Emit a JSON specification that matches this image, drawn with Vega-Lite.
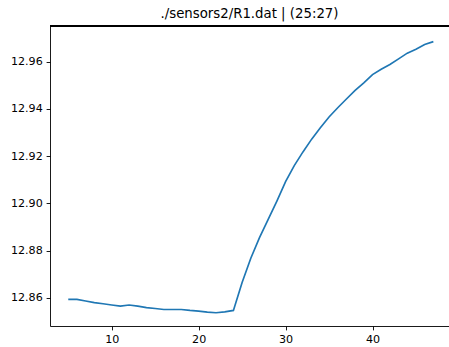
{
  "$schema": "https://vega.github.io/schema/vega-lite/v6.json",
  "autosize": "none",
  "width": 399,
  "height": 300,
  "padding": {"left": 50, "top": 26, "right": 0, "bottom": 21},
  "background": "white",
  "title": {
    "text": "./sensors2/R1.dat | (25:27)",
    "font": "DejaVu Sans",
    "fontSize": 13.3,
    "fontWeight": "normal",
    "color": "black",
    "anchor": "middle",
    "offset": 5
  },
  "config": {
    "view": {"stroke": null},
    "axis": {
      "grid": false,
      "labelFont": "DejaVu Sans",
      "labelFontSize": 11.1,
      "labelColor": "black",
      "domainColor": "black",
      "domainWidth": 0.9,
      "tickColor": "black",
      "tickWidth": 0.9,
      "tickSize": 3.9,
      "labelPadding": 3.9,
      "title": null
    }
  },
  "data": {
    "values": [
      {"x": 5, "y": 12.8594}, {"x": 6, "y": 12.8594}, {"x": 7, "y": 12.8587},
      {"x": 8, "y": 12.8580}, {"x": 9, "y": 12.8575}, {"x": 10, "y": 12.8570},
      {"x": 11, "y": 12.8565}, {"x": 12, "y": 12.8570}, {"x": 13, "y": 12.8565},
      {"x": 14, "y": 12.8559}, {"x": 15, "y": 12.8555}, {"x": 16, "y": 12.8551},
      {"x": 17, "y": 12.8551}, {"x": 18, "y": 12.8551}, {"x": 19, "y": 12.8547},
      {"x": 20, "y": 12.8544}, {"x": 21, "y": 12.8540}, {"x": 22, "y": 12.8537},
      {"x": 23, "y": 12.8541}, {"x": 24, "y": 12.8547}, {"x": 25, "y": 12.8665},
      {"x": 26, "y": 12.8768}, {"x": 27, "y": 12.8855}, {"x": 28, "y": 12.8932},
      {"x": 29, "y": 12.9010}, {"x": 30, "y": 12.9092}, {"x": 31, "y": 12.9160},
      {"x": 32, "y": 12.9218}, {"x": 33, "y": 12.9272}, {"x": 34, "y": 12.9320},
      {"x": 35, "y": 12.9366}, {"x": 36, "y": 12.9405}, {"x": 37, "y": 12.9442},
      {"x": 38, "y": 12.9478}, {"x": 39, "y": 12.9510}, {"x": 40, "y": 12.9545},
      {"x": 41, "y": 12.9568}, {"x": 42, "y": 12.9588}, {"x": 43, "y": 12.9612},
      {"x": 44, "y": 12.9636}, {"x": 45, "y": 12.9653}, {"x": 46, "y": 12.9673},
      {"x": 47, "y": 12.9685}
    ]
  },
  "layer": [
    {
      "mark": {"type": "line", "color": "#1f77b4", "strokeWidth": 1.67, "clip": true},
      "encoding": {
        "x": {
          "field": "x", "type": "quantitative",
          "scale": {"domain": [2.9, 48.8], "nice": false, "zero": false},
          "axis": {"values": [10, 20, 30, 40], "format": "d", "orient": "bottom"}
        },
        "y": {
          "field": "y", "type": "quantitative",
          "scale": {"domain": [12.8481, 12.9751], "nice": false, "zero": false},
          "axis": {"values": [12.86, 12.88, 12.90, 12.92, 12.94, 12.96], "format": ".2f"}
        }
      }
    },
    {
      "mark": {"type": "rule", "color": "black", "strokeWidth": 0.9},
      "encoding": {
        "y": {"datum": 12.9751}
      }
    }
  ]
}
